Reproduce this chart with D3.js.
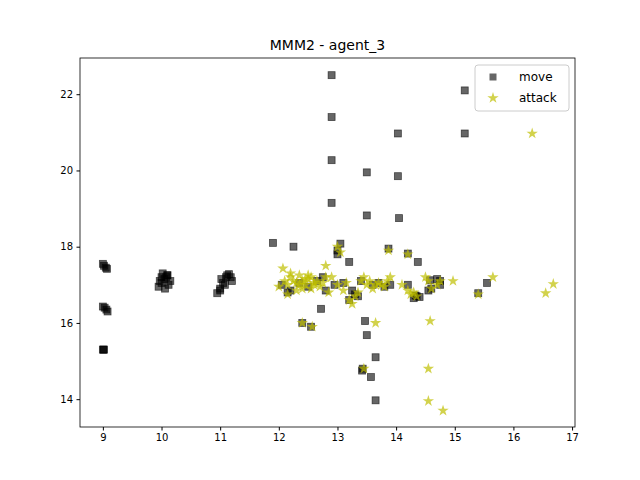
<!DOCTYPE html>
<html><head><script src="https://cdn.jsdelivr.net/npm/d3@7"></script>
<style>body{margin:0;background:#fff}text{font-family:"DejaVu Sans",sans-serif}</style></head>
<body><svg id="c" width="640" height="480"></svg>
<script>
const title = "MMM2 - agent_3";
const seriesNames = ["move","attack"];
const xTicks = [9,10,11,12,13,14,15,16,17];
const yTicks = [14,16,18,20,22];
const moveX = [9,9.02,9.05,9.07,9,9.03,9.06,9.08,9,9.01,9.02,
 9.95,10,10.05,10.1,10.15,10.02,10.08,10.12,10.0,10.06,9.97,10.1,
 10.95,11.0,11.05,11.1,11.15,11.2,11.08,11.12,11.02,11.18,11.0,
 11.9,12.25,12.9,12.9,12.9,12.9,13.05,13.2,13.5,13.5,14.03,14.03,14.05,15.17,15.17,13.87,14.2,14.37,
 12.72,13.47,13.5,13.65,13.57,13.65,13.43,13.42,15.4,15.55,14.58,
 13.3,13.25,13.35,14.75,14.75,14.7,14.33,14.3,14.35,14.4,14.6,14.55,
 12.05,12.2,12.35,12.5,12.65,12.8,12.95,13.1,13.4,13.6,13.8,12.4,12.55,13.0,13.0,13.9,14.2,12.15,12.75,13.2,13.7];
const moveY = [17.55,17.5,17.45,17.42,16.43,16.4,16.35,16.3,15.3,15.3,15.3,
 16.95,17.05,17.15,17.25,17.1,17.3,17.2,17.0,17.2,16.9,17.1,17.25,
 16.78,16.9,17.05,17.2,17.28,17.1,17.0,17.25,17.15,17.2,16.85,
 18.1,18.0,22.5,21.4,20.27,19.15,18.08,17.6,19.95,18.82,20.97,19.85,18.75,22.1,20.97,17.95,17.82,17.6,
 16.37,16.05,15.68,15.1,14.58,13.97,14.8,14.75,16.78,17.05,17.12,
 16.75,16.85,16.7,17.1,17.0,17.15,16.72,16.65,16.7,16.68,16.9,16.85,
 17.0,16.85,17.05,16.95,17.1,16.85,17.0,17.05,17.1,17.0,16.95,16.0,15.9,17.9,17.8,17.0,17.0,16.8,17.2,16.6,17.05];
const attackX = [12.0,12.1,12.15,12.2,12.25,12.3,12.35,12.4,12.45,12.5,12.55,12.6,12.65,12.7,12.75,12.8,12.85,12.3,12.4,12.5,12.2,12.6,12.45,12.35,
 13.0,13.1,13.15,13.3,13.4,13.45,13.5,13.55,13.6,13.7,13.75,13.8,13.85,13.9,13.65,13.35,
 14.1,14.2,14.25,14.3,14.35,14.5,14.55,14.7,14.75,14.6,
 16.32,16.55,16.68,15.65,14.97,14.58,14.55,14.55,14.8,13.0,12.8,12.07,12.4,12.57,13.65,13.25,13.45,13.05,13.87,14.2,15.4,12.9,12.15,12.55,13.2];
const attackY = [16.95,17.1,17.0,17.2,17.1,17.05,17.25,17.1,17.0,17.15,17.2,17.0,17.1,16.95,17.05,17.2,16.8,16.85,16.9,17.25,17.3,17.05,17.15,17.0,
 17.0,16.85,17.05,16.7,17.1,17.2,17.0,17.1,16.9,17.05,17.0,16.95,17.1,17.2,17.0,16.8,
 17.0,16.85,16.75,16.8,16.7,17.2,17.1,17.0,17.1,16.9,
 20.97,16.78,17.02,17.2,17.1,16.05,14.8,13.95,13.7,18.0,17.5,17.43,16.0,15.9,16.0,16.5,14.8,17.85,17.9,17.8,16.75,17.2,16.75,16.9,16.6];
const svg = d3.select("#c");
const m = {l:80,r:575,t:58,b:427};
const x = d3.scaleLinear().domain([8.61,17.05]).range([m.l,m.r]);
const y = d3.scaleLinear().domain([13.27,22.95]).range([m.b,m.t]);
svg.append("g").attr("transform",`translate(0,${m.b})`).call(d3.axisBottom(x).tickValues(xTicks).tickSize(3.5).tickPadding(3.5))
 .call(g=>g.selectAll("text").attr("font-size",10).attr("fill","#000"));
svg.append("g").attr("transform",`translate(${m.l},0)`).call(d3.axisLeft(y).tickValues(yTicks).tickSize(3.5).tickPadding(3.5))
 .call(g=>g.selectAll("text").attr("font-size",10).attr("fill","#000"));
svg.selectAll(".domain").remove();
svg.append("rect").attr("x",m.l).attr("y",m.t).attr("width",m.r-m.l).attr("height",m.b-m.t).attr("fill","none").attr("stroke","#000").attr("stroke-width",0.8);
svg.append("text").attr("x",(m.l+m.r)/2).attr("y",m.t-8).attr("text-anchor","middle").attr("font-size",14).text(title);
const star = d3.symbol().type(d3.symbolStar).size(40);
svg.append("g").selectAll("rect").data(moveX).join("rect")
 .attr("x",(d,i)=>x(d)-3.5).attr("y",(d,i)=>y(moveY[i])-3.5).attr("width",7).attr("height",7)
 .attr("fill","#000").attr("fill-opacity",0.6).attr("stroke","#000").attr("stroke-opacity",0.6).attr("stroke-width",0.8);
svg.append("g").selectAll("path").data(attackX).join("path").attr("d",star)
 .attr("transform",(d,i)=>`translate(${x(d)},${y(attackY[i])})`)
 .attr("fill","#bfbf00").attr("fill-opacity",0.7);
const lg = svg.append("g").attr("transform","translate(475,65)");
lg.append("rect").attr("width",94).attr("height",46).attr("rx",3).attr("fill","#fff").attr("fill-opacity",0.8).attr("stroke","#ccc");
lg.append("rect").attr("x",14.5).attr("y",8.5).attr("width",7).attr("height",7).attr("fill","#000").attr("fill-opacity",0.6);
lg.append("path").attr("d",star).attr("transform","translate(18,33)").attr("fill","#bfbf00").attr("fill-opacity",0.7);
lg.append("text").attr("x",44).attr("y",16).attr("font-size",12).text(seriesNames[0]);
lg.append("text").attr("x",44).attr("y",37).attr("font-size",12).text(seriesNames[1]);
</script></body></html>
